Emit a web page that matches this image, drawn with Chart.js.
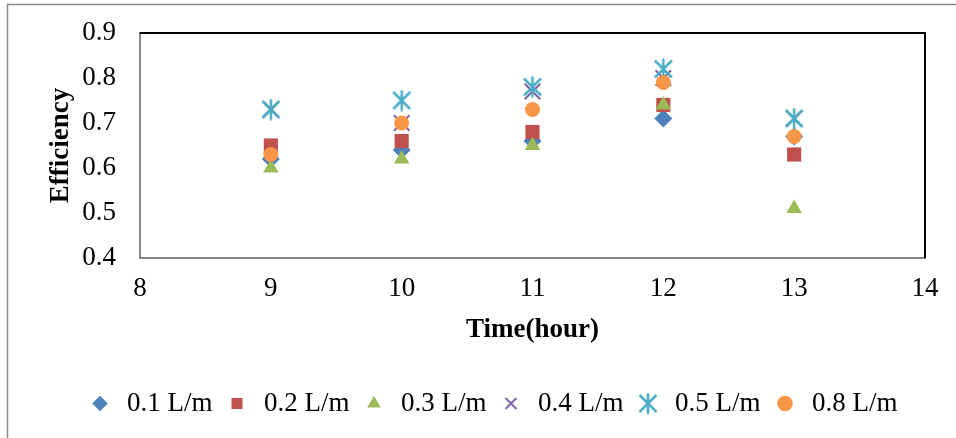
<!DOCTYPE html>
<html>
<head>
<meta charset="utf-8">
<script src="https://cdn.jsdelivr.net/npm/chart.js@4"></script>
<style>
    html, body { margin: 0; padding: 0; background: #fff; }
    #wrap { width: 956px; height: 438px; }
</style>
</head>
<body>
<div id="wrap"><canvas id="grafico"></canvas></div>
<script>
// data
const horas    = [9, 10, 11, 12, 13];
const series   = ['0.1 L/m', '0.2 L/m', '0.3 L/m', '0.4 L/m', '0.5 L/m', '0.8 L/m'];
const v01      = [0.62, 0.64, 0.66, 0.71, 0.67];
const v02      = [0.65, 0.66, 0.68, 0.74, 0.63];
const v03      = [0.60, 0.62, 0.65, 0.74, 0.51];
const v04      = [0.73, 0.70, 0.77, 0.80, 0.71];
const v05      = [0.73, 0.75, 0.78, 0.82, 0.71];
const v08      = [0.63, 0.70, 0.73, 0.79, 0.67];
const yTicks   = [0.4, 0.5, 0.6, 0.7, 0.8, 0.9];

const cores = ['#4F81BD', '#C0504D', '#9BBB59', '#8064A2', '#4BACC6', '#F79646'];

// asterisk marker like Excel (X + vertical bar)
function asterisco(cor) {
    const c = document.createElement('canvas');
    c.width = 22; c.height = 22;
    const g = c.getContext('2d');
    g.strokeStyle = cor;
    g.lineWidth = 2.5;
    g.beginPath();
    g.moveTo(2.5, 2.5);  g.lineTo(19.5, 19.5);
    g.moveTo(19.5, 2.5); g.lineTo(2.5, 19.5);
    g.moveTo(11, 0.5);   g.lineTo(11, 21.5);
    g.stroke();
    return c;
}

function pontos(vals) {
    return vals.map((v, i) => ({ x: horas[i], y: v }));
}

const estilos = [
    { pointStyle: 'rectRot',  radius: 9 },
    { pointStyle: 'rect',     radius: 10 },
    { pointStyle: 'triangle', radius: 9 },
    { pointStyle: 'crossRot', radius: 11 },
    { pointStyle: asterisco(cores[4]), radius: 10 },
    { pointStyle: 'circle',   radius: 7.5 }
];
const valores = [v01, v02, v03, v04, v05, v08];

// later series drawn on top, like Excel
const datasets = series.map((nome, i) => ({
    label: nome,
    data: pontos(valores[i]),
    order: series.length - i,
    pointStyle: estilos[i].pointStyle,
    pointRadius: estilos[i].radius,
    pointHoverRadius: estilos[i].radius,
    backgroundColor: cores[i],
    borderColor: cores[i],
    pointBorderWidth: (i === 3) ? 2 : 0,
    showLine: false
}));

// frame: black top/right of the plot, outer grey border
const moldura = {
    id: 'moldura',
    afterDraw(chart) {
        const { ctx, chartArea: a } = chart;
        ctx.save();
        ctx.strokeStyle = '#000';
        ctx.lineWidth = 2;
        ctx.beginPath();
        ctx.moveTo(a.left, a.top);
        ctx.lineTo(a.right, a.top);
        ctx.lineTo(a.right, a.bottom);
        ctx.stroke();
        ctx.strokeStyle = '#8a8a8a';
        ctx.lineWidth = 1.5;
        ctx.beginPath();
        ctx.moveTo(7.5, 438);
        ctx.lineTo(7.5, 4.5);
        ctx.lineTo(956, 4.5);
        ctx.stroke();
        ctx.restore();
    }
};

const serif     = '"Liberation Serif", "Times New Roman", serif';
const fonteTick = { family: serif, size: 27 };
const fonteTit  = { family: serif, size: 27, weight: 'bold' };

new Chart(document.getElementById('grafico'), {
    type: 'scatter',
    data: { datasets },
    plugins: [moldura],
    options: {
        responsive: true,
        maintainAspectRatio: false,
        animation: false,
        layout: { padding: { top: 33, right: 31, bottom: 11, left: 59 } },
        plugins: {
            tooltip: { enabled: false },
            legend: {
                position: 'bottom',
                labels: {
                    usePointStyle: true,
                    color: '#000',
                    font: fonteTick,
                    padding: 11,
                    boxHeight: 11,
                    sort: (a, b) => a.datasetIndex - b.datasetIndex
                }
            }
        },
        scales: {
            x: {
                type: 'linear',
                min: 8, max: 14,
                grid: { display: false, drawTicks: false },
                border: { color: '#868686', width: 2 },
                ticks: { stepSize: 1, color: '#000', font: fonteTick, padding: 15 },
                title: { display: true, text: 'Time(hour)', color: '#000', font: fonteTit, padding: { top: 4, bottom: 33 } },
                afterFit(s) { s.height = 121; s.paddingLeft = 0; s.paddingRight = 0; }
            },
            y: {
                min: 0.4, max: 0.9,
                afterBuildTicks(s) { s.ticks = yTicks.map(v => ({ value: v })); },
                grid: { display: false, drawTicks: false },
                border: { color: '#868686', width: 2 },
                ticks: { color: '#000', font: fonteTick, padding: 24, autoSkip: false, callback: v => v.toFixed(1) },
                title: { display: true, text: 'Efficiency', color: '#000', font: fonteTit, padding: { top: -14, bottom: 0 } },
                afterFit(s) { s.width = 81; s.paddingTop = 0; s.paddingBottom = 0; }
            }
        }
    }
});
</script>
</body>
</html>
